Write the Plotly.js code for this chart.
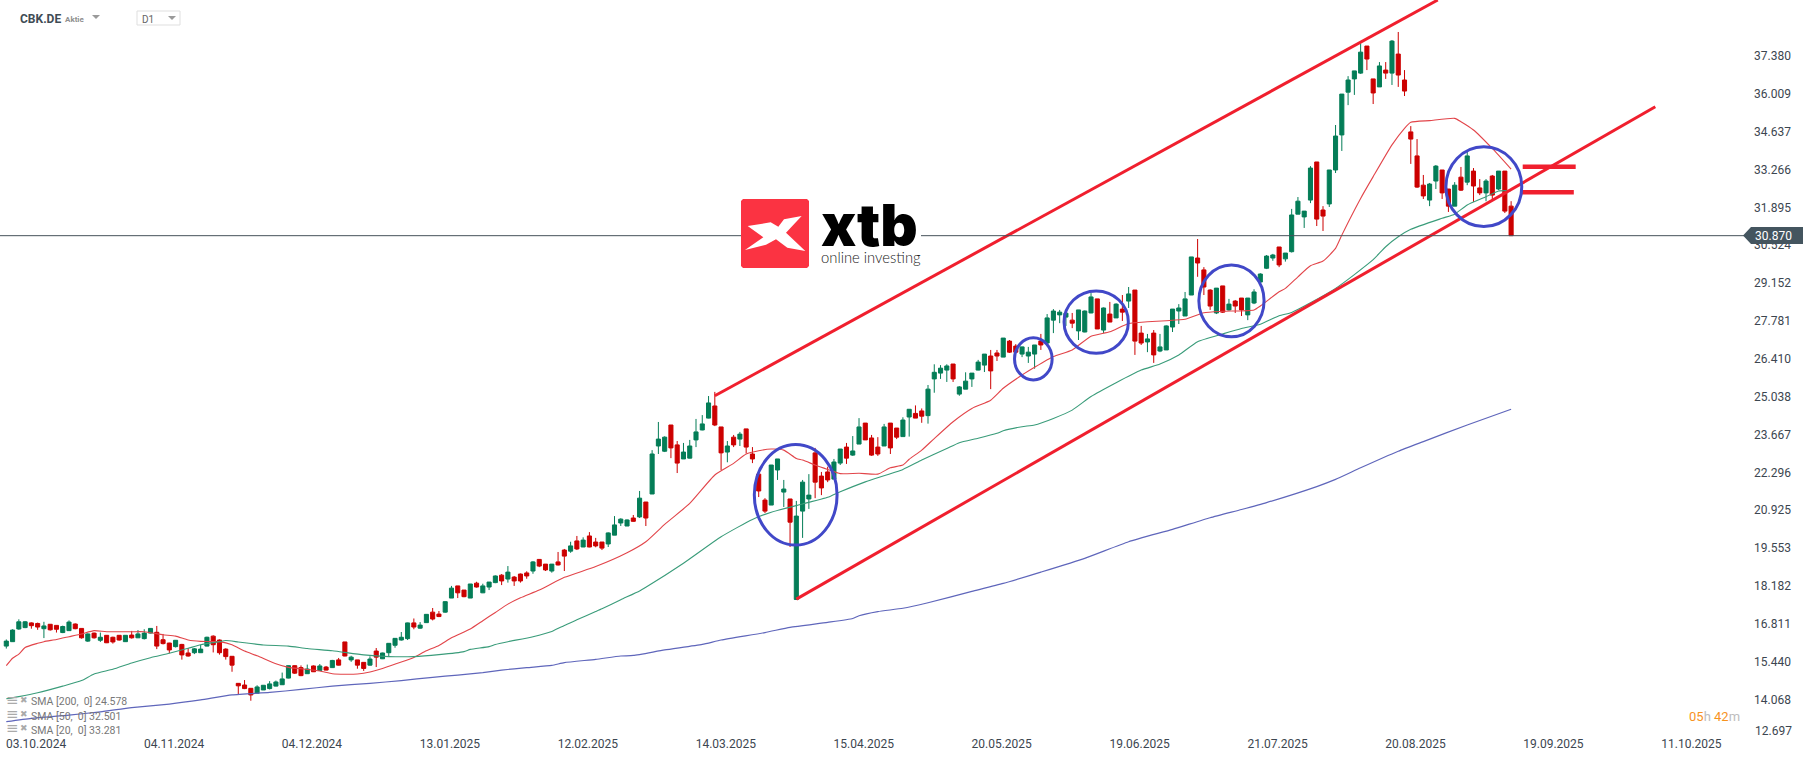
<!DOCTYPE html>
<html><head><meta charset="utf-8">
<script src="https://cdn.plot.ly/plotly-3.0.1.min.js"></script>
<style>html,body{margin:0;padding:0;background:#fff}#c{width:1815px;height:761px}</style>
</head><body><div id="c"></div>
<script>
const opens=[16.00,16.16,16.62,16.67,16.84,16.82,16.63,16.79,16.75,16.49,
16.56,16.80,16.64,16.18,16.47,16.21,16.39,16.32,16.39,16.16,
16.40,16.30,16.27,16.47,16.50,16.23,16.11,15.98,16.06,15.75,
15.76,15.76,16.00,16.36,16.22,15.89,15.63,14.65,14.59,14.47,
14.29,14.41,14.46,14.55,14.60,14.84,15.29,15.22,15.00,15.28,
15.12,15.24,15.22,15.50,16.15,15.50,15.50,15.41,15.31,15.82,
15.54,15.76,16.03,16.22,16.27,16.84,16.65,16.85,17.23,17.16,
17.23,17.74,18.18,18.03,17.74,18.28,17.93,18.14,18.30,18.57,
18.43,18.50,18.61,18.65,18.72,19.14,18.97,18.72,19.05,19.48,
19.44,19.81,19.59,19.99,19.77,19.77,19.70,20.02,20.46,20.35,
20.64,20.68,21.22,21.51,23.25,23.06,24.01,23.29,22.78,22.81,
23.47,23.83,24.26,24.70,23.94,23.03,23.57,23.50,23.87,22.96,
22.23,21.29,21.11,22.38,21.58,21.33,17.69,20.89,21.33,23.00,
22.16,22.31,22.05,22.63,23.21,22.92,23.32,24.08,23.54,23.21,
23.25,24.08,23.90,23.59,24.30,24.43,24.52,24.35,25.68,25.89,
26.00,26.22,25.13,25.31,25.68,26.00,26.18,26.51,26.62,26.47,
27.05,26.87,26.58,26.51,26.58,27.05,26.98,27.81,28.00,27.92,
27.81,27.42,27.38,28.07,28.58,27.45,28.03,27.89,28.21,28.50,
28.90,27.34,27.02,27.34,26.69,26.73,27.56,28.14,27.96,28.72,
30.06,29.63,28.90,28.07,29.05,28.18,28.50,28.61,28.00,28.43,
29.19,29.69,30.06,30.46,30.03,30.29,31.65,31.55,32.16,33.54,
31.80,32.02,33.25,34.52,36.07,36.55,36.76,37.74,36.55,36.26,
36.87,36.76,37.45,36.51,34.63,33.76,32.70,32.16,32.85,33.25,
32.56,31.94,32.99,32.81,33.21,32.60,32.42,33.03,32.56,33.21,31.94];
const closes=[16.18,16.58,16.88,16.88,16.74,16.69,16.73,16.59,16.61,16.71,
16.87,16.63,16.30,16.44,16.30,16.32,16.12,16.15,16.22,16.39,
16.30,16.44,16.47,16.64,16.00,16.09,15.86,16.21,15.68,15.64,
15.90,15.89,16.32,16.05,15.76,15.62,15.31,14.56,14.46,14.23,
14.52,14.58,14.63,14.70,14.81,15.29,15.02,14.93,15.17,15.07,
15.28,15.13,15.48,15.31,15.64,15.60,15.31,15.19,15.53,15.60,
15.75,16.10,16.28,16.32,16.84,16.69,16.76,17.15,16.98,17.07,
17.61,18.10,17.93,17.79,18.25,18.14,18.18,18.32,18.54,18.36,
18.68,18.36,18.36,18.54,19.05,18.90,18.76,18.97,18.94,19.26,
19.63,19.52,19.84,19.59,19.63,19.55,20.10,20.39,20.60,20.57,
20.52,21.36,20.64,22.96,23.50,23.57,23.18,22.63,23.03,23.25,
23.76,24.05,24.81,24.01,23.00,23.25,23.29,23.68,23.21,22.78,
21.62,20.89,22.56,22.78,21.69,20.49,20.71,21.94,21.47,21.94,
21.73,22.02,22.67,23.14,22.81,23.07,23.94,23.47,22.92,22.96,
23.94,23.18,23.57,24.19,24.58,24.26,24.33,25.31,25.92,26.07,
26.15,25.68,25.39,25.60,25.89,26.29,26.58,25.97,26.51,27.16,
26.65,26.65,26.84,26.65,26.91,26.91,27.89,28.14,28.10,28.06,
27.70,28.18,28.14,28.65,27.49,28.25,27.74,28.39,28.10,28.76,
27.05,26.98,27.13,26.55,26.84,27.60,28.21,28.25,28.58,30.10,
29.88,29.01,28.32,28.97,28.10,28.39,28.32,28.18,28.61,28.83,
29.48,30.13,30.17,29.81,30.24,31.62,32.12,31.76,33.32,31.47,
31.58,33.25,34.48,36.00,36.51,36.84,37.52,37.27,36.04,37.02,
36.76,37.92,36.69,36.11,34.37,32.63,32.31,32.74,33.39,32.42,
31.94,32.70,32.52,33.76,32.67,32.42,32.85,32.34,33.21,31.76,30.87];
const highs=[16.24,16.61,16.97,16.91,16.86,16.85,16.88,16.80,16.76,16.74,
16.93,16.82,16.64,16.46,16.49,16.49,16.40,16.34,16.40,16.40,
16.55,16.58,16.61,16.65,16.73,16.44,16.12,16.22,16.08,15.93,
15.93,16.05,16.34,16.39,16.24,15.92,15.64,14.66,14.77,14.48,
14.58,14.58,14.73,14.75,15.04,15.30,15.30,15.30,15.33,15.30,
15.35,15.28,15.50,15.57,16.15,15.65,15.50,15.42,15.63,15.93,
15.76,16.11,16.29,16.51,16.85,17.00,16.87,17.16,17.38,17.27,
17.62,18.18,18.18,18.03,18.25,18.33,18.26,18.32,18.56,18.61,
18.90,18.54,18.63,18.71,19.08,19.15,18.97,18.97,19.41,19.52,
19.78,19.99,19.94,20.13,19.92,19.77,20.12,20.71,20.63,20.59,
20.75,21.62,21.22,23.10,24.12,23.60,24.01,23.43,23.36,23.47,
24.23,24.37,25.06,25.21,23.94,23.43,23.65,23.76,23.87,23.21,
22.26,21.36,22.56,22.78,22.02,21.33,21.26,22.02,22.23,23.18,
22.31,22.50,22.78,23.14,23.36,23.61,24.26,24.08,23.65,23.57,
24.05,24.08,23.90,24.29,24.58,24.72,24.61,25.46,26.21,26.18,
26.21,26.22,25.42,25.92,25.89,26.37,26.58,26.73,26.73,27.16,
27.09,26.94,26.85,26.84,26.91,27.31,28.03,28.21,28.18,28.07,
28.07,28.18,28.16,28.79,28.58,28.27,28.47,28.42,28.72,29.01,
28.90,27.60,27.31,27.45,27.31,27.62,28.21,28.39,28.83,30.10,
30.75,29.73,28.93,28.97,29.05,28.58,28.54,28.61,28.61,28.93,
29.51,30.17,30.21,30.46,30.24,31.84,32.27,31.76,33.39,33.54,
31.94,33.25,34.88,36.00,36.65,36.84,37.84,37.74,36.55,37.16,
37.16,37.96,38.25,36.87,34.84,34.37,33.07,32.78,33.43,33.25,
32.56,32.81,33.36,33.94,33.32,32.92,32.92,33.07,33.21,33.21,32.12];
const lows=[15.91,16.15,16.59,16.65,16.63,16.59,16.29,16.56,16.49,16.47,
16.55,16.61,16.27,16.15,16.27,16.15,16.11,16.09,16.20,16.15,
16.27,16.29,16.24,16.46,15.89,16.06,15.74,15.95,15.51,15.62,
15.71,15.75,15.99,15.77,15.69,15.51,15.07,14.25,14.44,14.02,
14.28,14.41,14.43,14.54,14.59,14.83,14.99,14.91,14.99,15.06,
15.11,15.12,15.21,15.30,15.63,15.43,15.18,15.10,15.29,15.24,
15.53,15.64,15.94,16.20,16.22,16.61,16.63,16.84,16.93,17.05,
17.21,17.74,17.74,17.77,17.74,18.12,17.92,18.03,18.28,18.21,
18.30,18.18,18.30,18.44,18.62,18.86,18.72,18.66,18.92,18.72,
19.38,19.48,19.59,19.58,19.58,19.48,19.59,20.02,20.35,20.35,
20.51,20.64,20.35,21.51,22.96,23.03,22.81,22.27,22.78,22.80,
23.21,23.82,24.25,23.97,22.38,22.66,23.21,23.25,22.98,22.63,
21.40,20.82,21.11,22.02,21.04,19.59,17.69,19.92,20.97,21.36,
21.47,21.94,22.05,22.56,22.60,22.89,23.32,23.47,22.89,22.89,
23.25,22.96,23.50,23.59,23.59,24.26,24.09,24.06,25.18,25.68,
25.57,25.57,25.07,25.31,25.39,25.99,25.93,25.31,26.33,26.47,
26.62,26.63,26.47,26.26,26.05,26.73,26.97,27.34,27.70,27.60,
27.52,27.09,27.37,28.06,27.49,27.34,27.74,27.89,27.78,28.25,
26.55,26.91,26.65,26.26,26.65,26.73,27.38,27.67,27.96,28.72,
29.38,28.72,28.18,28.03,28.07,28.15,28.07,27.96,27.81,28.39,
29.18,29.66,29.96,29.73,29.93,30.26,31.65,31.15,32.05,31.22,
31.04,31.91,33.14,33.94,35.60,35.97,36.73,36.87,35.64,36.26,
36.55,36.33,36.26,35.93,33.47,32.60,32.20,31.94,32.56,32.20,
31.73,31.94,32.49,32.70,32.09,32.34,32.12,32.20,32.52,31.69,30.87];

const sma20Idx=[0,1,2,3,5,6,8,10,12,14,16,20,22,25,27,29,31,34,36,38,40,43,45,47,50,52,54,56,58,60,63,65,67,69,71,74,76,78,80,82,85,89,94,99,102,105,109,113,116,118,120,122,124,126,127,129,131,133,136,139,141,143,144,146,148,151,154,157,159,162,164,167,170,173,176,179,182,185,188,191,194,199,200,203,204,206,208,210,212,213,214,216,218,221,223,224,227,231,232,234,237,240];
const sma20Val=[15.29,15.56,15.71,15.95,16.10,16.16,16.24,16.34,16.44,16.56,16.52,16.52,16.52,16.41,16.36,16.22,16.17,16.16,16.05,15.82,15.65,15.36,15.23,15.18,15.10,15.00,14.98,14.99,15.06,15.19,15.42,15.59,15.83,16.02,16.30,16.62,16.92,17.22,17.52,17.75,18.03,18.49,18.88,19.38,19.78,20.41,21.17,22.20,22.62,22.96,23.08,23.14,23.10,22.80,22.74,22.56,22.40,22.25,22.26,22.23,22.46,22.56,22.77,23.10,23.52,24.13,24.61,24.91,25.34,25.82,26.10,26.49,26.73,27.23,27.39,27.69,27.75,27.79,27.84,28.08,28.13,28.18,28.32,28.84,28.96,29.38,29.78,29.95,30.41,30.89,31.35,32.22,33.01,34.16,34.76,34.98,35.04,35.12,35.00,34.70,34.03,33.28];
const sma50Idx=[0,2,5,9,12,14,17,20,23,26,29,31,34,35,37,41,45,48,52,57,61,65,69,73,74,77,78,80,84,87,89,91,94,95,98,101,102,108,114,119,122,127,131,133,137,143,146,150,152,155,158,159,162,164,167,170,173,177,181,184,187,190,194,197,200,203,205,208,212,215,218,220,222,224,229,231,233,236,238,240];
const sma50Val=[14.09,14.17,14.31,14.55,14.75,14.99,15.16,15.39,15.58,15.74,15.92,16.05,16.16,16.20,16.15,16.04,16.00,15.91,15.83,15.68,15.62,15.62,15.69,15.80,15.88,15.98,16.06,16.16,16.34,16.53,16.75,16.95,17.25,17.35,17.68,18.00,18.13,19.00,19.96,20.59,20.85,21.15,21.39,21.59,21.95,22.40,22.74,23.16,23.37,23.53,23.71,23.80,23.95,24.01,24.25,24.55,25.04,25.54,26.00,26.22,26.55,27.03,27.31,27.51,27.66,27.97,28.09,28.44,28.96,29.46,30.00,30.47,30.83,31.10,31.50,31.65,31.98,32.28,32.49,32.50];
const sma200Idx=[0,4,10,15,20,26,31,36,42,47,52,58,63,68,72,76,79,83,87,89,94,98,100,105,111,114,121,125,131,135,136,139,143,147,154,159,165,172,179,186,192,197,201,209,212,216,222,226,233,240];
const sma200Val=[13.26,13.38,13.50,13.62,13.77,13.90,14.05,14.23,14.32,14.43,14.55,14.65,14.75,14.87,14.95,15.04,15.13,15.22,15.30,15.40,15.52,15.64,15.66,15.86,16.06,16.22,16.49,16.68,16.86,17.00,17.10,17.25,17.37,17.57,17.98,18.27,18.68,19.18,19.78,20.23,20.65,20.95,21.20,21.78,22.04,22.46,23.06,23.41,24.01,24.58];

const upperX=[113,228.3], upperY=[25.07,39.409];
const lowerX=[126,263], lowerY=[17.70,35.54];
const level1X=[241.85,250.3], level1Y=[33.37,33.37];
const level2X=[241.7,250], level2Y=[32.44,32.44];
const ellipses=[[119.3,132.5,19.66,23.30],[160.8,166.8,25.64,27.17],[168.7,178.95,26.61,28.87],[190.2,200.6,27.21,29.81],[229.6,241.7,31.20,34.09]];

const dateTicks=[0,22,44,66,88,110,132,154,176,198,220,242,264];
const dateLabels=['03.10.2024','04.11.2024','04.12.2024','13.01.2025','12.02.2025','14.03.2025','15.04.2025','20.05.2025','19.06.2025','21.07.2025','20.08.2025','19.09.2025','11.10.2025'];
const priceTicks=[14.068,15.440,16.811,18.182,19.553,20.925,22.296,23.667,25.038,26.410,27.781,29.152,30.524,31.895,33.266,34.637,36.009,37.380];
const lastPrice=30.870;

const W=1750,H=733;
const px=x=>x/W, py=y=>1-y/H;
const poly=pts=>'M'+pts.map(p=>px(p[0])+','+py(p[1])).join(' L')+' Z';
const xs=opens.map((_,i)=>i);
const INK='#3c4650';
const line=(x,y,color,width,name)=>({type:'scatter',mode:'lines',x,y,name,hoverinfo:'skip',line:{color,width,shape:'linear'}});
const curve=(x,y,color,width,name)=>({type:'scatter',mode:'lines',x,y,name,hoverinfo:'skip',line:{color,width,shape:'spline',smoothing:0.5}});

const traces=[
 {type:'candlestick',x:xs,open:opens,high:highs,low:lows,close:closes,
  increasing:{line:{color:'#047d57',width:1},fillcolor:'#047d57'},
  decreasing:{line:{color:'#cc0000',width:1},fillcolor:'#cc0000'},whiskerwidth:0},
 curve(sma20Idx,sma20Val,'#e2454a',1.1,'SMA 20'),
 curve(sma50Idx,sma50Val,'#3a9c7a',1.1,'SMA 50'),
 curve(sma200Idx,sma200Val,'#5f66bb',1.2,'SMA 200'),
 line(upperX,upperY,'#f01f2e',3,'upper'),
 line(lowerX,lowerY,'#f01f2e',3,'lower'),
 line(level1X,level1Y,'#f01f2e',4.5,'level 1'),
 line(level2X,level2Y,'#f01f2e',4.5,'level 2')
];

const lx=x=>700+x/3, ly=y=>170+y/3;
const xMark=[[143,168],[212,157],[235,170],[252,148],[305,138],[258,188],[316,243],[262,233],[228,208],[198,224],[135,240],[190,202]].map(p=>[lx(p[0]),ly(p[1])]);
const shapes=[
 {type:'line',xref:'paper',yref:'y',x0:0,x1:px(1745),y0:lastPrice,y1:lastPrice,line:{color:'#46525a',width:1}},
 {type:'rect',xref:'paper',yref:'paper',x0:px(741),x1:px(921),y0:py(268),y1:py(199),line:{width:0},fillcolor:'#fff'},
 {type:'path',xref:'paper',yref:'paper',path:poly([[743,199],[807,199],[809,201],[809,266],[807,268],[743,268],[741,266],[741,201]]),line:{width:0},fillcolor:'#fb3342'},
 {type:'path',xref:'paper',yref:'paper',path:poly(xMark),line:{width:0},fillcolor:'#fff'},
 {type:'path',xref:'paper',yref:'paper',path:poly([[1743,235.5],[1751,227],[1803,227],[1803,244],[1751,244]]),line:{width:0},fillcolor:'#44555f'},
 {type:'rect',xref:'paper',yref:'paper',x0:px(137),x1:px(180),y0:py(25),y1:py(11),line:{color:'#dfdfdf',width:1},fillcolor:'#fff'},
 {type:'path',xref:'paper',yref:'paper',path:poly([[92,15],[100,15],[96,19]]),line:{width:0},fillcolor:'#9a9a9a'},
 {type:'path',xref:'paper',yref:'paper',path:poly([[168,16],[176,16],[172,20]]),line:{width:0},fillcolor:'#9a9a9a'}
];
ellipses.forEach(e=>shapes.push({type:'circle',xref:'x',yref:'y',x0:e[0],x1:e[1],y0:e[2],y1:e[3],line:{color:'#4148c8',width:3},fillcolor:'rgba(0,0,0,0)'}));

const ann=(text,x,y,size,color,extra)=>Object.assign({text,xref:'paper',yref:'paper',x:px(x),y:py(y),xanchor:'left',yanchor:'middle',showarrow:false,borderpad:0,borderwidth:0,
  font:{family:'Roboto',size,color}},extra||{});
const annotations=[
 ann('<b>CBK.DE</b>',19.5,19,12,'#3f4c55'),
 ann('<b>Aktie</b>',65,19.5,8,'#8f8f8f'),
 ann('D1',142,19.6,10,'#666'),
 ann(lastPrice.toFixed(3),1755,236,12,'#fff'),
 ann('12.697',1755,731,12,INK),
 ann('<span style="color:#f7931e">05</span><span style="color:#bdbdbd">h</span> <span style="color:#f7931e">42</span><span style="color:#bdbdbd">m</span>',1688.5,716,13,'#bdbdbd'),
 ann('SMA [200,&#160; 0] 24.578',31,701.7,10.5,'#777'),
 ann('SMA [50,&#160; 0] 32.501',31,716,10.5,'#777'),
 ann('SMA [20,&#160; 0] 33.281',31,730,10.5,'#777'),
 ann('≡',6,700,15,'#aaa',{font:{family:'DejaVu Sans',size:15,color:'#aaa'}}),
 ann('≡',6,714,15,'#aaa',{font:{family:'DejaVu Sans',size:15,color:'#aaa'}}),
 ann('≡',6,728,15,'#aaa',{font:{family:'DejaVu Sans',size:15,color:'#aaa'}}),
 ann('✖',20,700,9,'#aaa',{font:{family:'DejaVu Sans',size:9,color:'#aaa'}}),
 ann('✖',20,714,9,'#aaa',{font:{family:'DejaVu Sans',size:9,color:'#aaa'}}),
 ann('✖',20,728,9,'#aaa',{font:{family:'DejaVu Sans',size:9,color:'#aaa'}}),
 ann('xtb',821,225,58,'#000',{font:{family:'Inter',size:58,color:'#000',weight:900}}),
 ann('online investing',821,257,14.8,'#222',{font:{family:'Lato',size:14.8,color:'#222',weight:300}})
];

Plotly.newPlot('c',traces,{
 width:1815,height:761,showlegend:false,paper_bgcolor:'#fff',plot_bgcolor:'#fff',
 margin:{l:0,r:65,t:0,b:28,pad:0},boxgap:0.35,boxgroupgap:0,dragmode:false,hovermode:false,
 font:{family:'Roboto',size:12,color:INK},
 xaxis:{type:'linear',range:[-1.005,278.1],rangeslider:{visible:false},showgrid:false,zeroline:false,showline:false,ticks:'',ticklabelstandoff:2,
  tickmode:'array',tickvals:dateTicks.map(t=>t+4.75),ticktext:dateLabels,tickfont:{family:'Roboto',size:12,color:INK},tickangle:0,automargin:false},
 yaxis:{side:'right',range:[12.851,39.409],showgrid:false,zeroline:false,showline:false,ticks:'',ticklabelstandoff:3,
  tickmode:'array',tickvals:priceTicks,ticktext:priceTicks.map(v=>v.toFixed(3)),tickfont:{family:'Roboto',size:12,color:INK},automargin:false},
 shapes,annotations
},{staticPlot:true,displayModeBar:false});
</script></body></html>
